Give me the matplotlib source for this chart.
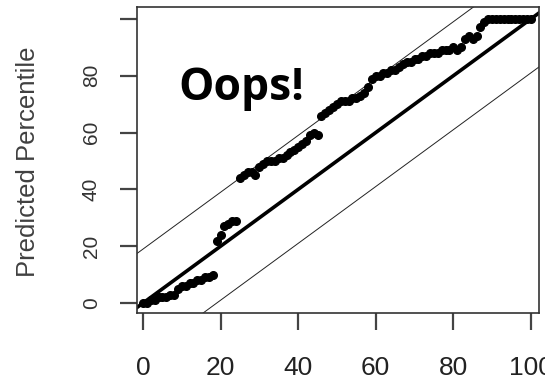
import numpy as np
import matplotlib
matplotlib.use("Agg")
import matplotlib.pyplot as plt

actual = list(range(0, 101))
predicted = [0, 0, 1, 1, 2, 2, 2, 3, 3, 5,
             6, 6, 7, 7, 8, 8, 9, 9, 10, 22,
             24, 27, 28, 29, 29, 44, 45, 46, 46, 45,
             48, 49, 50, 50, 50, 51, 51, 52, 53, 54,
             55, 56, 57, 59, 60, 59, 66, 67, 68, 69,
             70, 71, 71, 71, 72, 72, 73, 74, 76, 79,
             80, 80, 81, 81, 82, 82, 83, 84, 85, 85,
             86, 86, 87, 87, 88, 88, 88, 89, 89, 89,
             90, 89, 90, 93, 94, 93, 94, 97, 99, 100,
             100, 100, 100, 100, 100, 100, 100, 100, 100, 100,
             100]
band = 19          # offset of the thin guide lines
ticks = [0, 20, 40, 60, 80, 100]
ytick_labels = ["0", "20", "40", "60", "80", ""]

W, H = 545, 382
fig = plt.figure(figsize=(W / 100, H / 100), dpi=100)
ax = fig.add_axes([137 / W, 1 - 313 / H, (539 - 137) / W, (313 - 7) / H])

xx = np.array([-10, 120])
ax.plot(xx, xx, color="black", lw=2.6, solid_capstyle="butt", zorder=2)
ax.plot(xx, xx + band, color="#222222", lw=0.7, zorder=2)
ax.plot(xx, xx - band, color="#222222", lw=0.7, zorder=2)
ax.plot(actual, predicted, "o", color="black", ms=5.5, mec="black", zorder=3)

ax.set_xlim(-1.55, 102.1)
ax.set_ylim(-3.5, 104.2)

for s in ax.spines.values():
    s.set_color("#333333")
    s.set_linewidth(1.2)

ax.set_xticks(ticks)
ax.set_xticklabels([str(t) for t in ticks],
                   family=["Liberation Sans Narrow", "Liberation Sans"],
                   fontsize=19, color="#222222")
ax.set_yticks(ticks)
ax.set_yticklabels(ytick_labels, rotation=90, va="center",
                   family="Liberation Sans", fontsize=15, color="#333333")
ax.tick_params(axis="x", length=12, width=1.6, color="#444444", pad=19)
ax.tick_params(axis="y", length=12, width=1.6, color="#444444", pad=14)

fig.text(28 / W, 1 - 162 / H, "Predicted Percentile", rotation=90,
         ha="center", va="center", family="Liberation Sans",
         fontsize=18.5, color="#404040")

fig.text(241 / W, 1 - 100 / H, "Oops!", ha="center", va="baseline",
         family="Open Sans", fontweight="bold", fontsize=32, color="black")

fig.savefig("out.png", dpi=100)
